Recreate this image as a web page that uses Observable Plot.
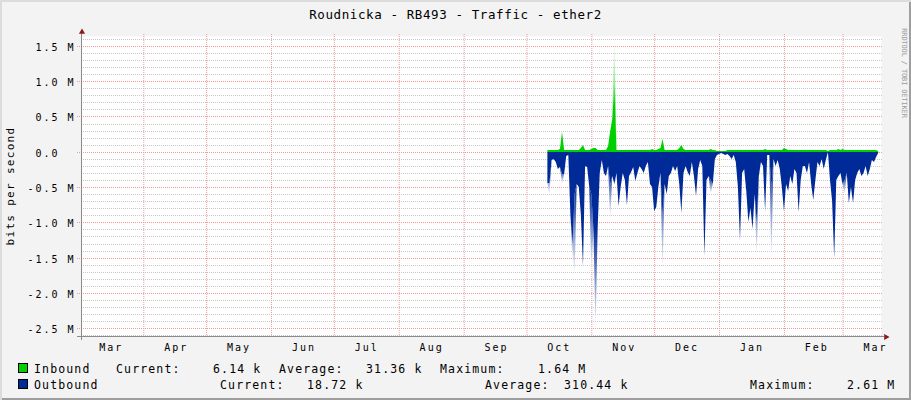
<!DOCTYPE html>
<html>
<head>
<meta charset="utf-8">
<script src="https://cdn.jsdelivr.net/npm/d3@7"></script>
<script src="https://cdn.jsdelivr.net/npm/@observablehq/plot@0.6"></script>
<style>
html,body{margin:0;padding:0;background:#fff}
#wrap{position:relative;width:911px;height:400px;background:#f3f3f3;overflow:hidden;
  font-family:"DejaVu Sans Mono",monospace;color:#000;
  box-shadow:inset 2px 2px 0 #dcdcdc, inset -2px -2px 0 #9e9e9e}
#title{position:absolute;left:0;top:8px;width:911px;text-align:center;font-size:12.5px;line-height:13px;letter-spacing:0.6px;white-space:pre}
#chart{position:absolute;left:0;top:28px}
#ytitle{position:absolute;left:9.5px;top:186px;font-size:11px;line-height:11px;letter-spacing:1.3px;white-space:pre;
  transform:translate(-50%,-50%) rotate(-90deg)}
#wm{position:absolute;left:902.5px;top:72.5px;font-size:7px;line-height:7px;letter-spacing:-0.15px;white-space:pre;color:#9c9c9c;
  transform:translate(-50%,-50%) rotate(90deg)}
.lg{position:absolute;font-size:11.5px;line-height:12px;letter-spacing:1.15px;white-space:pre}
.sw{position:absolute;width:8px;height:8px;border:1px solid #000}
svg g[font-size="10"] text{letter-spacing:2px}
#defs{position:absolute;width:0;height:0;left:0;top:0}
</style>
</head>
<body>
<svg id="defs" width="0" height="0">
  <defs>
    <linearGradient id="fadeOut" x1="0" y1="0" x2="0" y2="1">
      <stop offset="0" stop-color="#002a97"/>
      <stop offset="1" stop-color="#ffffff"/>
    </linearGradient>
    <linearGradient id="fadeIn" x1="0" y1="1" x2="0" y2="0">
      <stop offset="0" stop-color="#00cf00"/>
      <stop offset="1" stop-color="#ffffff"/>
    </linearGradient>
  </defs>
</svg>
<div id="wrap">
  <div id="title"></div>
  <div id="chart"></div>
  <div id="ytitle"></div>
  <div id="wm"></div>
  <div id="legend"></div>
</div>
<script>
// ---------------- data ----------------
const chartTitle = "Roudnicka - RB493 - Traffic - ether2";
const yAxisTitle = "bits per second";
const watermark = "RRDTOOL / TOBI OETIKER";

// daily samples, starting at this date (UTC), values in Mbit/s (peak extent of each day)
const firstSampleDay = "2024-10-11";
const inboundM = [
  0.03,0.03,0.03,0.02,0.03,0.03,0.04,0.28,0.03,0.02,
  0.02,0.02,0.02,0.02,0.03,0.03,0.05,0.10,0.03,0.03,
  0.03,0.04,0.05,0.05,0.03,0.03,0.03,0.02,0.03,0.08,
  0.30,0.46,1.64,0.03,0.03,0.03,0.03,0.03,0.03,0.03,
  0.03,0.03,0.03,0.03,0.03,0.03,0.03,0.03,0.03,0.03,
  0.04,0.03,0.03,0.04,0.05,0.18,0.03,0.03,0.03,0.03,
  0.03,0.03,0.03,0.05,0.09,0.04,0.03,0.03,0.03,0.03,
  0.03,0.03,0.03,0.03,0.03,0.03,0.03,0.03,0.04,0.03,
  0.02,0.01,0.01,0.01,0.01,0.01,0.02,0.02,0.02,0.02,
  0.02,0.03,0.03,0.03,0.03,0.03,0.03,0.03,0.03,0.03,
  0.03,0.03,0.03,0.03,0.04,0.02,0.02,0.03,0.02,0.03,
  0.03,0.03,0.03,0.05,0.04,0.03,0.03,0.03,0.03,0.03,
  0.03,0.03,0.03,0.03,0.03,0.03,0.03,0.03,0.03,0.03,
  0.03,0.03,0.03,0.03,0.005,0.03,0.03,0.03,0.03,0.04,
  0.03,0.04,0.03,0.03,0.03,0.03,0.03,0.03,0.03,0.03,
  0.03,0.03,0.03,0.03,0.03,0.03,0.02,0.02,0.006
];
const outboundM = [
  0.44,0.62,0.12,0.10,0.14,0.25,0.22,0.45,0.32,0.06,
  0.04,0.90,1.55,1.78,0.45,0.50,0.90,1.62,0.20,0.22,
  0.50,1.70,1.10,2.55,1.10,0.30,0.12,0.30,0.35,0.20,
  0.96,0.35,0.45,0.30,0.77,0.50,0.30,0.40,0.75,0.35,
  0.28,0.22,0.42,0.30,0.20,0.25,0.30,0.20,0.15,0.45,
  0.50,0.84,0.78,0.50,0.30,1.70,0.45,0.60,0.35,0.30,
  0.20,0.27,0.20,0.45,0.87,0.30,0.20,0.28,0.35,0.15,
  0.35,0.62,0.25,0.12,0.20,1.48,0.40,0.35,0.60,0.45,
  0.10,0.04,0.03,0.02,0.03,0.04,0.03,0.06,0.10,0.05,
  0.15,0.50,1.25,0.30,0.25,0.55,1.00,0.80,1.10,0.60,
  1.50,0.35,0.15,0.20,0.84,0.05,0.05,1.57,0.10,0.20,
  0.12,0.25,0.50,0.84,0.45,0.55,0.35,0.45,0.25,0.30,
  0.86,0.40,0.20,0.20,0.30,0.15,0.45,0.69,0.40,0.15,
  0.20,0.10,0.25,0.12,0.01,0.40,0.70,1.51,0.40,0.35,
  0.30,0.45,0.60,0.30,0.73,0.50,0.72,0.40,0.30,0.25,
  0.35,0.30,0.20,0.35,0.25,0.12,0.15,0.08,0.019
];
// spikes whose tips fade out: day index and depth (Mbit/s) where the solid colour ends
const fadeDaysOut = [1, 7, 12, 13, 21, 23, 30, 55, 78, 100, 107, 142];
const fadeSolidOut = [0.44, 0.32, 1.30, 0.60, 0.60, 1.10, 0.45, 0.90, 0.40, 1.00, 0.50, 0.40];
const fadeDaysIn = [32];
const fadeSolidIn = [0.95];

const xDomain = ["2024-03-02T05:30:00Z", "2025-03-19T08:30:00Z"];
const yDomain = [-2.61, 1.64];

const monthStarts = ["2024-03-01","2024-04-01","2024-05-01","2024-06-01","2024-07-01","2024-08-01",
  "2024-09-01","2024-10-01","2024-11-01","2024-12-01","2025-01-01","2025-02-01","2025-03-01"];
const monthLabels = ["Mar","Apr","May","Jun","Jul","Aug","Sep","Oct","Nov","Dec","Jan","Feb","Mar"];

const yMajorTicks = [1.5, 1.0, 0.5, 0, -0.5, -1.0, -1.5, -2.0, -2.5];
const yMajorLabels = ["1.5 M","1.0 M","0.5 M","0.0\u00a0\u00a0","-0.5 M","-1.0 M","-1.5 M","-2.0 M","-2.5 M"];
const yMinorTicks = d3.range(-26, 17).map(i => i / 10);

const seriesNames = ["Inbound", "Outbound"];
const seriesColors = ["#00cf00", "#002a97"];
const legendCurrent = ["6.14 k", "18.72 k"];
const legendAverage = ["31.36 k", "310.44 k"];
const legendMaximum = ["1.64 M", "2.61 M"];

// ---------------- build ----------------
const t0 = new Date(firstSampleDay + "T00:00:00Z");
const solidIn = inboundM.slice();
fadeDaysIn.forEach((d, k) => { solidIn[d] = fadeSolidIn[k]; });
const solidOut = outboundM.slice();
fadeDaysOut.forEach((d, k) => { solidOut[d] = fadeSolidOut[k]; });

const rows = inboundM.map((v, i) => ({
  date: d3.utcDay.offset(t0, i),
  inb: solidIn[i],
  out: solidOut[i]
}));

// faded tip bands (one path per spike, from neighbour to neighbour)
function tipRows(days, peak, solid) {
  const out = [];
  days.forEach((d, k) => {
    for (let j = d - 1; j <= d + 1; j++) {
      if (j < 0 || j >= peak.length) continue;
      out.push({date: d3.utcDay.offset(t0, j), lo: solid[j], hi: j === d ? peak[j] : solid[j], z: k});
    }
  });
  return out;
}
const tipsOut = tipRows(fadeDaysOut, outboundM, solidOut);
const tipsIn = tipRows(fadeDaysIn, inboundM, solidIn);

const xd = xDomain.map(s => new Date(s));
const gridDates = monthStarts.map(s => new Date(s + "T00:00:00Z")).filter(d => d >= xd[0] && d <= xd[1]);
const labelDates = monthStarts.map(s => d3.utcDay.offset(new Date(s + "T00:00:00Z"), 15));
const font = "DejaVu Sans Mono";

const plot = Plot.plot({
  width: 911,
  height: 330,
  marginLeft: 81,
  marginRight: 30,
  marginTop: 8,
  marginBottom: 22,
  style: {background: "transparent", fontFamily: font, overflow: "visible", color: "#000"},
  x: {type: "utc", domain: xd, axis: null},
  y: {domain: yDomain, axis: null, round: true},
  marks: [
    Plot.frame({fill: "#ffffff", stroke: "none"}),
    Plot.ruleY(yMinorTicks.filter(v => !yMajorTicks.includes(v)), {stroke: "#c8c8c8", strokeDasharray: "1,1", insetRight: -2}),
    Plot.ruleY(yMajorTicks, {stroke: "#ef9a9a", strokeDasharray: "1,1", insetLeft: -4, insetRight: -2}),
    Plot.ruleX(gridDates, {stroke: "#ef9a9a", strokeDasharray: "1,1", insetTop: -2}),
    Plot.areaY(tipsIn, {x: "date", y1: "lo", y2: "hi", z: "z", fill: "url(#fadeIn)", curve: "linear"}),
    Plot.areaY(tipsOut, {x: "date", y1: d => -d.lo, y2: d => -d.hi, z: "z", fill: "url(#fadeOut)", curve: "linear"}),
    Plot.areaY(rows, {x: "date", y: "inb", fill: seriesColors[0], curve: "linear"}),
    Plot.areaY(rows, {x: "date", y: d => -d.out, fill: seriesColors[1], curve: "linear"}),
    Plot.ruleX([xd[0]], {stroke: "#8a8a8a", insetTop: -3, insetBottom: -4}),
    Plot.ruleY([yDomain[0]], {stroke: "#8a8a8a", insetLeft: -4, insetRight: -3}),
    Plot.dot([0], {x: () => xd[0], y: () => yDomain[1], symbol: "triangle", r: 2.3, fill: "#8b1a1a", stroke: "none", dy: -4.5, dx: 0.5}),
    Plot.dot([0], {x: () => xd[1], y: () => yDomain[0], symbol: "triangle", r: 2.3, fill: "#8b1a1a", stroke: "none", rotate: 90, dx: 4.5, dy: 0.5}),
    Plot.text(yMajorTicks, {y: d => d, text: (d, i) => yMajorLabels[i], frameAnchor: "left", textAnchor: "end",
      dx: -6, dy: 1, lineAnchor: "middle", fontSize: 10, fill: "#000"}),
    Plot.text(labelDates, {x: d => d, text: (d, i) => monthLabels[i], frameAnchor: "bottom",
      dy: 11, dx: 1, lineAnchor: "middle", fontSize: 10, fill: "#000"})
  ]
});
document.getElementById("chart").appendChild(plot);
document.getElementById("title").textContent = chartTitle;
document.getElementById("ytitle").textContent = yAxisTitle;
document.getElementById("wm").textContent = watermark;

// legend (layout positions in px)
const legendLayout = [
  {top: 363, sw: 18, name: 34, cur: [116, 213], avg: [279, 366], max: [440, 538]},
  {top: 379, sw: 18, name: 34, cur: [220, 307], avg: [485, 564], max: [750, 847]}
];
const lg = document.getElementById("legend");
function addText(txt, left, top) {
  const s = document.createElement("div");
  s.className = "lg";
  s.style.left = left + "px";
  s.style.top = top + "px";
  s.textContent = txt;
  lg.appendChild(s);
}
seriesNames.forEach((name, i) => {
  const L = legendLayout[i];
  const sw = document.createElement("div");
  sw.className = "sw";
  sw.style.left = L.sw + "px";
  sw.style.top = L.top + "px";
  sw.style.background = seriesColors[i];
  lg.appendChild(sw);
  addText(name, L.name, L.top);
  addText("Current:", L.cur[0], L.top);
  addText(legendCurrent[i], L.cur[1], L.top);
  addText("Average:", L.avg[0], L.top);
  addText(legendAverage[i], L.avg[1], L.top);
  addText("Maximum:", L.max[0], L.top);
  addText(legendMaximum[i], L.max[1], L.top);
});
</script>
</body>
</html>
